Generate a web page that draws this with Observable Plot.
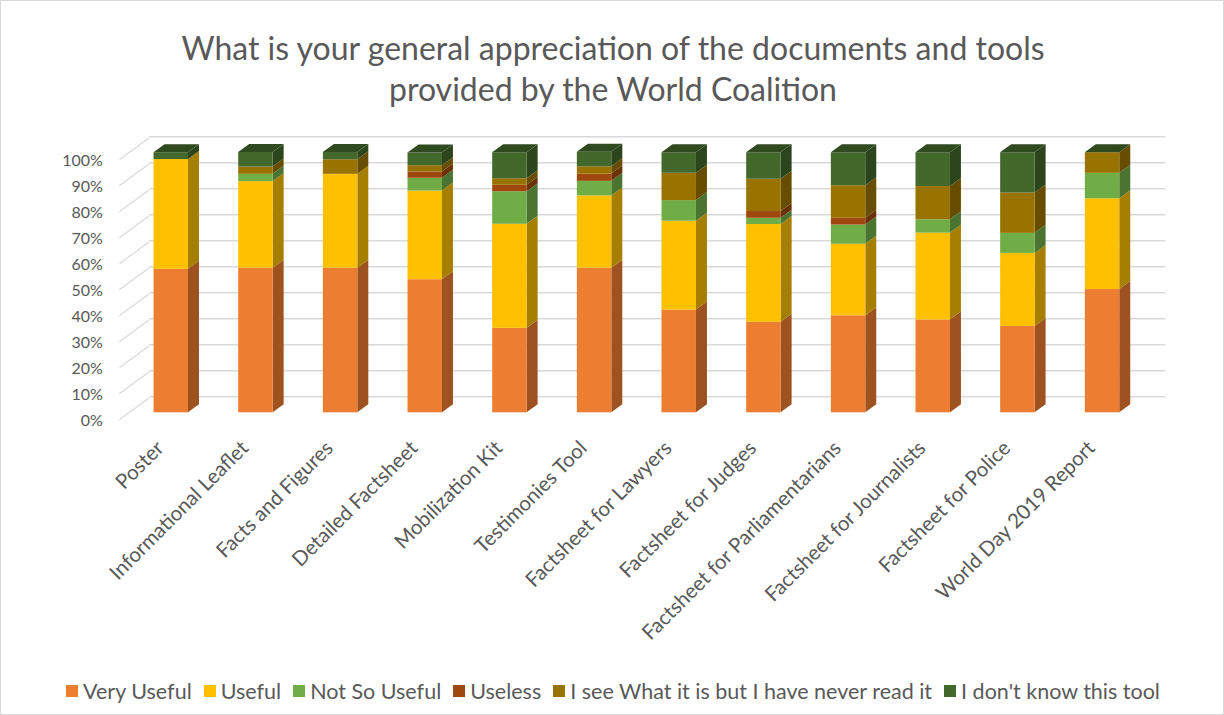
<!DOCTYPE html>
<html>
<head>
<meta charset="utf-8">
<script src="https://cdn.jsdelivr.net/npm/d3@7"></script>
<script src="https://cdn.jsdelivr.net/npm/@observablehq/plot@0.6"></script>
<style>
  html, body { margin: 0; padding: 0; background: #fff; }
  #chart { position: relative; width: 1224px; height: 715px; box-sizing: border-box; border: 1px solid #D9D9D9; overflow: hidden; font-family: Lato, "Open Sans", sans-serif; color: #595959; }
  #title { position: absolute; left: 0; top: 26px; width: 1224px; text-align: center; font-size: 32px; line-height: 41px; color: #595959; }
  #plot { position: absolute; left: 0; top: 0; }
  #legend { position: absolute; left: 0; top: 677px; width: 1224px; display: flex; justify-content: center; gap: 12px; font-size: 21.5px; color: #595959; }
  #legend .item { display: flex; align-items: center; white-space: nowrap; }
  #legend .sw { width: 12px; height: 12px; margin-right: 5px; display: inline-block; }
</style>
</head>
<body>
<div id="chart">
  <div id="title">What is your general appreciation of the documents and tools<br>provided by the World Coalition</div>
  <div id="plot"></div>
  <div id="legend"></div>
</div>
<script>
const tools = ["Poster", "Informational Leaflet", "Facts and Figures", "Detailed Factsheet", "Mobilization Kit", "Testimonies Tool", "Factsheet for Lawyers", "Factsheet for Judges", "Factsheet for Parliamentarians", "Factsheet for Journalists", "Factsheet for Police", "World Day 2019 Report"];
const answers = ["Very Useful", "Useful", "Not So Useful", "Useless", "I see What it is but I have never read it", "I don't know this tool"];
const colors = ["#ED7D31", "#FFC000", "#70AD47", "#9E480E", "#997300", "#43682B"];
const sideColors = ["#9E521F", "#A67F00", "#4A7430", "#6B3109", "#664D00", "#2C451C"];
const topColor = "#2F4A1E";

const veryUseful = [55.2, 55.6, 55.6, 51.2, 32.5, 55.6, 39.5, 34.8, 37.3, 35.7, 33.2, 47.4];
const useful     = [42.2, 33.3, 36.1, 34.1, 40.0, 27.8, 34.2, 37.6, 27.5, 33.4, 28.1, 34.9];
const notSoUseful= [0, 2.8, 0, 4.9, 12.5, 5.6, 7.9, 2.4, 7.4, 5.1, 7.7, 9.8];
const useless    = [0, 0, 0, 2.4, 2.5, 2.8, 0, 2.6, 2.6, 0, 0, 0];
const neverRead  = [0, 2.8, 5.6, 2.4, 2.5, 2.8, 10.5, 12.4, 12.5, 12.8, 15.5, 7.9];
const dontKnow   = [2.6, 5.6, 2.8, 4.9, 10.0, 5.6, 7.9, 10.2, 12.7, 13.0, 15.5, 0];
const yTicks = [0, 10, 20, 30, 40, 50, 60, 70, 80, 90, 100];

const series = [veryUseful, useful, notSoUseful, useless, neverRead, dontKnow];
const table = [];
tools.forEach((tool, i) => {
  series.forEach((s, j) => {
    table.push({tool, answer: answers[j], value: s[i], color: colors[j], side: sideColors[j]});
  });
});
const totals = tools.map((tool, i) => ({tool, total: d3.sum(series, s => s[i])}));

const W = 1224, H = 665;
const mL = 102.5, mR = 53.6, mT = 151.5, mB = H - 412;
const pad = 0.593;
const step = (W - mL - mR) / (tools.length + pad);
const bw = step * (1 - pad);
const depthX = 11, depthY = 8;

const plot = Plot.plot({
  width: W,
  height: H,
  marginLeft: mL,
  marginRight: mR,
  marginTop: mT,
  marginBottom: mB,
  style: {fontFamily: "Lato, 'Open Sans', sans-serif", color: "#595959", background: "transparent", overflow: "visible"},
  x: {domain: tools, padding: pad, round: false, axis: null},
  y: {domain: [0, 100], axis: null},
  color: {type: "identity"},
  marks: [
    // back wall gridlines
    Plot.ruleY(yTicks, {y: d => d, dy: -16, insetLeft: 46, insetRight: 4, stroke: "#D9D9D9", strokeWidth: 1.5}),
    // side-wall diagonals
    Plot.ruleY(yTicks, {y: d => d, dy: 7, insetLeft: 16, insetRight: (W - mL - mR) - 46, stroke: "#D9D9D9", strokeWidth: 1.5}),
    // side faces
    Plot.barY(table, Plot.stackY({x: "tool", y: "value", z: "answer", fill: "side", insetLeft: bw, insetRight: -depthX})),
    // front faces
    Plot.barY(table, Plot.stackY({x: "tool", y: "value", z: "answer", fill: "color"})),
    // top faces
    Plot.barY(totals, {x: "tool", y1: "total", y2: "total", insetTop: -depthY, fill: topColor}),
    // y tick labels
    Plot.text(yTicks, {y: d => d, text: d => d + "%", frameAnchor: "left", textAnchor: "end", dx: -1, dy: 8, fontSize: 16, fill: "#595959"}),
    // x tick labels
    Plot.text(tools, {x: d => d, y: () => 0, text: d => d, rotate: -45, textAnchor: "end", dx: -11, dy: 32, fontSize: 20.5, fill: "#595959"})
  ]
});
document.getElementById("plot").appendChild(plot);

// give the 3D faces their slant
const groups = Array.from(plot.querySelectorAll(":scope > g"));
const diagG = groups[1], sideG = groups[2], topG = groups[4];
const angSide = Math.atan(depthY / depthX) * 180 / Math.PI;
const angTop = Math.atan(depthX / depthY) * 180 / Math.PI;
sideG.querySelectorAll("rect").forEach(r => {
  const x = +r.getAttribute("x");
  r.setAttribute("transform", `translate(${x},0) skewY(${-angSide}) translate(${-x},0)`);
});
topG.querySelectorAll("rect").forEach(r => {
  const yb = +r.getAttribute("y") + +r.getAttribute("height");
  r.setAttribute("transform", `translate(0,${yb}) skewX(${-angTop}) translate(0,${-yb})`);
});
diagG.querySelectorAll("line").forEach(l => {
  const x = +l.getAttribute("x1");
  l.setAttribute("transform", `translate(${x},0) skewY(${-Math.atan(22/30)*180/Math.PI}) translate(${-x},0)`);
});

// legend
const legend = document.getElementById("legend");
answers.forEach((a, j) => {
  const it = document.createElement("div");
  it.className = "item";
  const sw = document.createElement("span");
  sw.className = "sw";
  sw.style.background = colors[j];
  it.appendChild(sw);
  it.appendChild(document.createTextNode(a));
  legend.appendChild(it);
});
</script>
</body>
</html>
